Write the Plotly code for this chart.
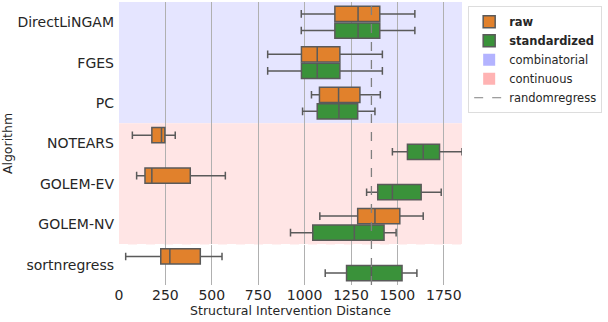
import plotly.graph_objects as go

# algorithms, top to bottom
algorithms = ["DirectLiNGAM", "FGES", "PC", "NOTEARS", "GOLEM-EV", "GOLEM-NV", "sortnregress"]

# box statistics of the SID
raw_low = [982, 801, 1037, 72, 95, 1082, 36]
raw_q1 = [1163, 983, 1080, 177, 140, 1286, 225]
raw_med = [1288, 1068, 1183, 229, 177, 1379, 274]
raw_q3 = [1405, 1190, 1298, 247, 384, 1513, 438]
raw_high = [1594, 1419, 1408, 303, 573, 1639, 555]

std_low = [982, 801, 989, 1473, 1334, 924, 1111]
std_q1 = [1163, 983, 1068, 1554, 1394, 1044, 1226]
std_med = [1288, 1068, 1185, 1639, 1473, 1268, 1360]
std_q3 = [1405, 1190, 1286, 1727, 1628, 1428, 1525]
std_high = [1594, 1419, 1379, 1848, 1736, 1493, 1605]

randomregress_sid = 1360

# algorithm families
combinatorial = ["DirectLiNGAM", "FGES", "PC"]
continuous = ["NOTEARS", "GOLEM-EV", "GOLEM-NV"]

x_ticks = [0, 250, 500, 750, 1000, 1250, 1500, 1750]

orange = "#e1812c"
green = "#3a923a"
edge = "rgb(90,90,90)"

fig = go.Figure()

fig.add_trace(go.Box(
    name="<b>raw</b>", y=algorithms, orientation="h",
    q1=raw_q1, median=raw_med, q3=raw_q3,
    lowerfence=raw_low, upperfence=raw_high,
    fillcolor=orange, line=dict(color=edge, width=1.5),
    whiskerwidth=0.5, boxpoints=False,
))
fig.add_trace(go.Box(
    name="<b>standardized</b>", y=algorithms, orientation="h",
    q1=std_q1, median=std_med, q3=std_q3,
    lowerfence=std_low, upperfence=std_high,
    fillcolor=green, line=dict(color=edge, width=1.5),
    whiskerwidth=0.5, boxpoints=False,
))

# legend-only entries
fig.add_trace(go.Bar(name="combinatorial", x=[None], y=[None], orientation="h",
                     marker=dict(color="#b3b3ff", line=dict(width=0))))
fig.add_trace(go.Bar(name="continuous", x=[None], y=[None], orientation="h",
                     marker=dict(color="#ffb3b3", line=dict(width=0))))
fig.add_trace(go.Scatter(name="randomregress", x=[None], y=[None], mode="lines",
                         line=dict(color="gray", width=1, dash="dash")))

# family backgrounds
n_comb = len(combinatorial)
n_cont = len(continuous)
fig.add_shape(type="rect", xref="paper", yref="y", x0=0, x1=1,
              y0=-0.5, y1=n_comb - 0.5, fillcolor="#e5e5ff",
              line=dict(width=0), layer="below")
fig.add_shape(type="rect", xref="paper", yref="y", x0=0, x1=1,
              y0=n_comb - 0.5, y1=n_comb + n_cont - 0.5, fillcolor="#ffe5e5",
              line=dict(width=0), layer="below")
fig.add_shape(type="line", xref="paper", yref="y", x0=0, x1=1,
              y0=n_comb + n_cont - 0.5, y1=n_comb + n_cont - 0.5,
              line=dict(color="white", width=1, dash="dash"))

# randomregress baseline
fig.add_shape(type="line", xref="x", yref="paper",
              x0=randomregress_sid, x1=randomregress_sid, y0=0, y1=1,
              line=dict(color="gray", width=1.3, dash="dash"))

fig.update_layout(
    width=608, height=322,
    margin=dict(l=119, r=146, t=2, b=37),
    plot_bgcolor="white", paper_bgcolor="white",
    font=dict(family="DejaVu Sans", color="#262626"),
    boxmode="group", boxgap=0.18, boxgroupgap=0.08,
    showlegend=True,
    legend=dict(x=1.018, y=0.985, xanchor="left", yanchor="top",
                bordercolor="#dddddd", borderwidth=1,
                font=dict(size=11.5), tracegroupgap=0, itemwidth=30),
)
fig.update_xaxes(
    range=[0, 1848], tickvals=x_ticks, showgrid=True, gridcolor="#b0b0b0",
    gridwidth=1, zeroline=False, tickfont=dict(size=14), ticks="",
    automargin=False,
    title=dict(text="Structural Intervention Distance", font=dict(size=12.5), standoff=2),
)
fig.update_yaxes(
    categoryorder="array", categoryarray=algorithms, autorange="reversed",
    showgrid=False, zeroline=False, tickfont=dict(size=14), ticks="",
    ticklabelstandoff=4, automargin=False,
    title=dict(text="Algorithm", font=dict(size=12.5), standoff=4),
)

fig.write_html("out.html", config={"displayModeBar": False},
               post_script="document.body.style.margin='0';")
